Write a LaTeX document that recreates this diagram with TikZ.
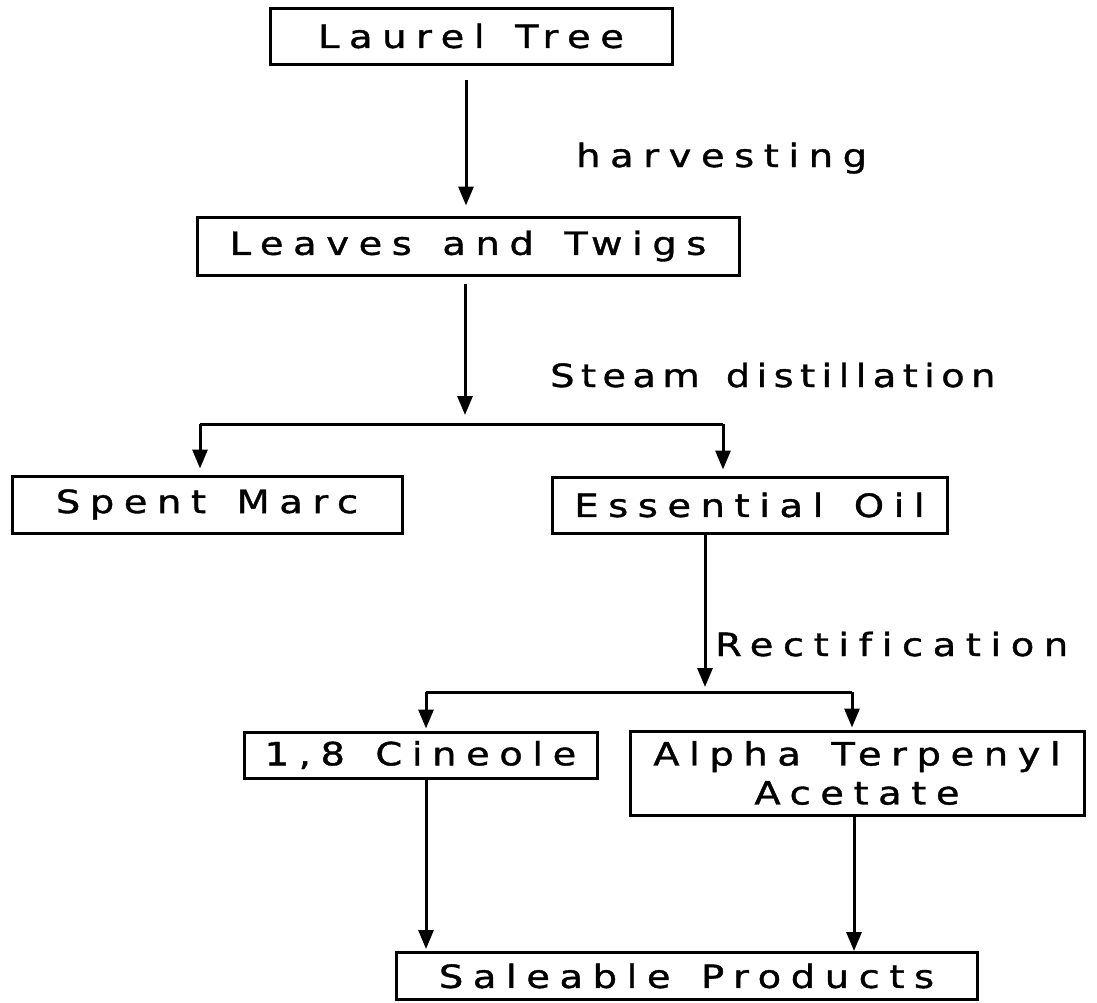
\documentclass[tikz,border=0pt]{standalone}
\usepackage{fontspec}
\setmainfont{DejaVu Sans}[LetterSpace=30, WordSpace=1.4, FakeStretch=1.2, FakeBold=1.2, Ligatures={NoCommon}]
\newfontfamily\tightfont{DejaVu Sans}[LetterSpace=20, WordSpace=1.4, FakeStretch=1.2, FakeBold=1.2, Ligatures={NoCommon}]
\usetikzlibrary{arrows.meta}
\begin{document}
\begin{tikzpicture}[x=1pt,y=-1pt,
  txt/.style={font=\fontsize{32}{39}\selectfont},
  proc/.style={draw, line width=3pt, inner sep=0pt, align=center, txt},
  lab/.style={inner sep=0pt, txt},
  conn/.style={line width=3pt, line join=miter},
  arr/.style={conn, -{Triangle[length=19pt,width=15pt]}}]
\useasboundingbox (0,0) rectangle (1097,1002);
% boxes
\node[proc, minimum width=402pt, minimum height=56pt] (laurel) at (471,36) {Laurel Tree};
\node[proc, minimum width=542pt, minimum height=58pt] (leaves) at (468,246) {Leaves and Twigs};
\node[proc, minimum width=390pt, minimum height=57pt] (spent) at (207,504.5) {Spent Marc};
\node[proc, minimum width=395pt, minimum height=56pt] (oil) at (749.5,505) {Essential Oil};
\node[proc, minimum width=353pt, minimum height=46pt] (cin) at (420.5,755) {1,8 Cineole};
\node[proc, minimum width=454pt, minimum height=84pt] (alpha) at (857,773) {Alpha Terpenyl\\Acetate};
\node[proc, minimum width=581pt, minimum height=47pt] (sale) at (686.5,976) {Saleable Products};
% labels
\node[lab, anchor=base west] (harv) at (576,167) {harvesting};
\node[lab, anchor=base west] (steam) at (550,387) {\tightfont Steam distillation};
\node[lab, anchor=base west] (rect) at (715,656) {Rectification};
% junctions
\coordinate (a1) at (466,80);
\coordinate (s1) at (465,424);
\coordinate (s1L) at (200,424);
\coordinate (s1R) at (723,424);
\coordinate (s2) at (705,692);
\coordinate (s2L) at (426,692);
\coordinate (s2R) at (852,692);
\coordinate (c1) at (426,0);
\coordinate (c2) at (854,0);
% connectors
\draw[arr] (a1) -- ([yshift=10pt]a1 |- leaves.north);
\draw[arr, shorten <=7pt] (s1 |- leaves.south) -- ([yshift=9pt]s1);
\draw[conn] (s1L) -- (s1R);
\draw[arr] (s1L) -- ([yshift=6pt]s1L |- spent.north);
\draw[arr] (s1R) -- ([yshift=6pt]s1R |- oil.north);
\draw[arr] (s2 |- oil.south) -- ([yshift=5pt]s2);
\draw[conn] (s2L) -- (s2R);
\draw[arr] (s2L) -- ([yshift=2pt]s2L |- cin.north);
\draw[arr] (s2R) -- ([yshift=2pt]s2R |- alpha.north);
\draw[arr] (c1 |- cin.south) -- ([yshift=2pt]c1 |- sale.north);
\draw[arr] (c2 |- alpha.south) -- (c2 |- sale.north);
\end{tikzpicture}
\end{document}
